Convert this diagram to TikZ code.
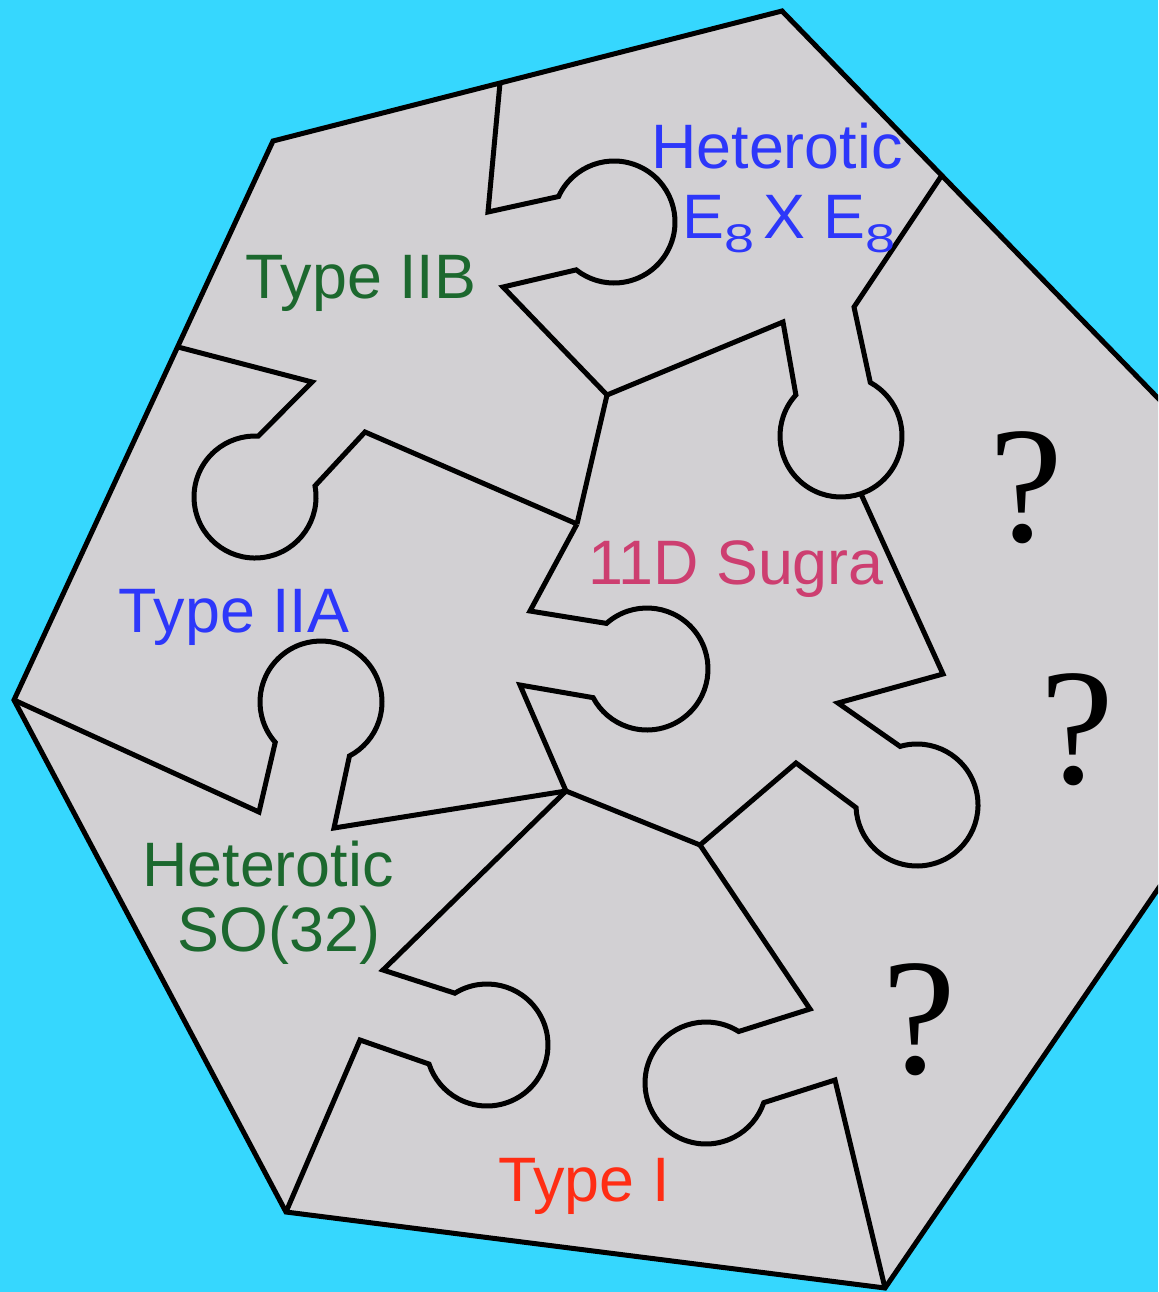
\documentclass[tikz,border=0pt]{standalone}
\usepackage{fontspec}
\setmainfont{Liberation Sans}
\newfontfamily\qfont{Liberation Serif}
\usepackage{graphicx}
\usetikzlibrary{calc}
\definecolor{bgcyan}{RGB}{54,215,254}
\definecolor{piecegray}{RGB}{210,208,211}
\definecolor{lblgreen}{RGB}{28,104,46}
\definecolor{lblblue}{RGB}{45,55,250}
\definecolor{lblpink}{RGB}{205,62,112}
\definecolor{lblred}{RGB}{255,45,20}
\newcommand\lowsub[1]{\raisebox{-7pt}{\scalebox{1.35}[1]{\fontsize{20}{20}\selectfont #1}}}
\begin{document}
\begin{tikzpicture}[x=0.5pt,y=-0.5pt,
  edge/.style={line width=2.5pt, draw=black, line join=miter},
  lbl/.style={font=\fontsize{31.4}{36}\selectfont, inner sep=0pt, anchor=base},
  qmark/.style={font=\qfont\fontsize{83}{90}\selectfont, inner sep=0pt, anchor=base}]
\useasboundingbox (0,0) rectangle (1158,1292);
\fill[bgcyan] (0,0) rectangle (1158,1292);
\begin{scope}
\clip (0,0) rectangle (1158,1292);
\coordinate (A) at (782,11);
\coordinate (B) at (273,141);
\coordinate (C) at (14,700);
\coordinate (D) at (286,1212);
\coordinate (E) at (885,1288);
\coordinate (F) at (1355,601);
\coordinate (J1) at (607,395);
\coordinate (J2) at (566,791);
\coordinate (J3) at (700,845);
\coordinate (J4) at (577,524);
\fill[piecegray] (A) -- (B) -- (C) -- (D) -- (E) -- (F) -- cycle;
% Type IIB / Heterotic E8xE8
\draw[edge] (500,83) -- (488,212) -- ($(614,222)+(-155.3:61)$)
  arc[start angle=-155.3, end angle=128.3, radius=61] -- (503,287) -- (J1);
% Heterotic E8xE8 / 11D Sugra / right region
\draw[edge] (J1) -- (783,322) -- ($(841,436)+(222.3:61)$)
  arc[start angle=222.3, end angle=-61.3, radius=61] -- (854,307) -- (942,175);
% 11D Sugra / right region
\draw[edge] ($(841,436)+(71:61)$) -- (943,674) -- (838,703) -- ($(917,805)+(-106.1:61)$)
  arc[start angle=-106.1, end angle=177.5, radius=61] -- (796,763) -- (J3);
% Type IIB / 11D
\draw[edge] (J1) -- (J4);
% Type IIA / Type IIB
\draw[edge] (J4) -- (365,432) -- ($(255,497)+(-10.5:61)$)
  arc[start angle=-10.5, end angle=273.1, radius=61] -- (312,382) -- (178,347);
% 11D / Type IIA
\draw[edge] (J4) -- (530,611) -- ($(647,669)+(-131.6:61)$)
  arc[start angle=-131.6, end angle=152, radius=61] -- (520,685) -- (J2);
% Type IIA / Heterotic SO(32)
\draw[edge] (C) -- (259,812) -- ($(321,702)+(138.6:61)$)
  arc[start angle=138.6, end angle=422.2, radius=61] -- (334,828) -- (J2);
% 11D / Type I
\draw[edge] (J2) -- (J3);
% Heterotic SO(32) / Type I
\draw[edge] (J2) -- (383,970) -- ($(487,1045)+(-121.8:61)$)
  arc[start angle=-121.8, end angle=161.8, radius=61] -- (360,1040) -- (D);
% Type I / right region
\draw[edge] (J3) -- (810,1009) -- ($(706,1083)+(-57.6:61)$)
  arc[start angle=-57.6, end angle=-341.2, radius=61] -- (835,1080) -- (E);
% outline
\draw[edge] (A) -- (B) -- (C) -- (D) -- (E) -- (F) -- cycle;
\end{scope}
\node[lbl, text=lblgreen] (iib) at (361,298) {Type IIB};
\node[lbl, text=lblblue] (het1) at (777,168) {Heterotic};
\node[lbl, text=lblblue] (het2) at (789,238) {E\lowsub{8}\hspace{4.5pt}X E\lowsub{8}};
\node[lbl, text=lblblue] (iia) at (234,632) {Type IIA};
\node[lbl, text=lblpink] (sugra) at (736,584) {11D Sugra};
\node[lbl, text=lblgreen] (so1) at (268,886) {Heterotic};
\node[lbl, text=lblgreen] (so2) at (279,951) {SO(32)};
\node[lbl, text=lblred] (typei) at (584,1201) {Type I};
\node[qmark] (q1) at (1026,541) {?};
\node[qmark] (q2) at (1077,783) {?};
\node[qmark] (q3) at (919,1073) {?};
\end{tikzpicture}
\end{document}
